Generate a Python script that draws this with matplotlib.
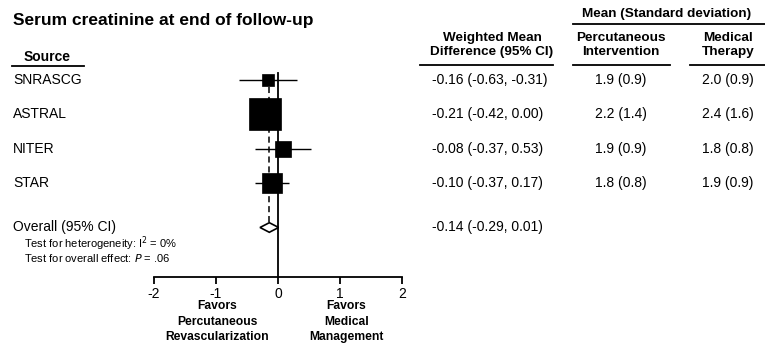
import numpy as np
import matplotlib
matplotlib.use("Agg")
import matplotlib.pyplot as plt
from matplotlib.lines import Line2D
from matplotlib.transforms import blended_transform_factory

plt.rcParams['font.family'] = ['Liberation Sans', 'DejaVu Sans']

# data
studies = ['SNRASCG', 'ASTRAL', 'NITER', 'STAR']
estimate = [-0.16, -0.21, 0.08, -0.10]
ci_low = [-0.63, -0.42, -0.37, -0.37]
ci_high = [0.31, 0.00, 0.53, 0.17]
weights = [6.5, 58.4, 13.7, 21.4]
wmd_text = ['-0.16 (-0.63, -0.31)', '-0.21 (-0.42, 0.00)',
            '-0.08 (-0.37, 0.53)', '-0.10 (-0.37, 0.17)']
perc_text = ['1.9 (0.9)', '2.2 (1.4)', '1.9 (0.9)', '1.8 (0.8)']
med_text = ['2.0 (0.9)', '2.4 (1.6)', '1.8 (0.8)', '1.9 (0.9)']
overall = -0.14
overall_ci = (-0.29, 0.01)
overall_text = '-0.14 (-0.29, 0.01)'
xticks = [-2, -1, 0, 1, 2]

W, H = 765, 352
fig = plt.figure(figsize=(W / 100, H / 100), dpi=100)

def fx(px):
    return px / W

def fy(py):
    return 1 - py / H

# forest plot axes: x -2..2 between px 154 and 402, rows in data units
ax = fig.add_axes([fx(154), fy(277), fx(402) - fx(154), (277 - 60) / H])
ax.set_xlim(-2, 2)
row_px = 34.3
ax.set_ylim((277 - 80) / row_px, (60 - 80) / row_px)
rows = np.arange(len(studies))
overall_y = 4.3

for s in ['top', 'right', 'left']:
    ax.spines[s].set_visible(False)
ax.spines['bottom'].set_linewidth(1.3)
ax.set_yticks([])
ax.set_xticks(xticks)
ax.set_xticklabels([str(t) for t in xticks])
ax.tick_params(axis='x', length=5, width=1.3, labelsize=10, pad=2)

ybot = ax.get_ylim()[0]
# line of no effect and dashed overall line
ax.plot([0, 0], [-0.2, ybot], color='black', lw=1.3, clip_on=False)
ax.plot([overall, overall], [-0.1, overall_y - 0.14], color='black', lw=1.1,
        ls=(0, (4, 2.5)), clip_on=False)

# study CIs and squares
ax.hlines(rows, ci_low, ci_high, color='black', lw=1.0)
sides = 33 * np.sqrt(np.array(weights) / max(weights)) / 1.389
for y, e, s in zip(rows, estimate, sides):
    ax.plot(e, y, marker='s', ms=s, color='black', mec='black', mew=0.5)

# overall diamond
h = 0.14
dx = [overall_ci[0], overall, overall_ci[1], overall, overall_ci[0]]
dy = [overall_y, overall_y - h, overall_y, overall_y + h, overall_y]
ax.fill(dx, dy, facecolor='white', edgecolor='black', lw=1.2, zorder=3)

# text columns (x in figure px, y in rows)
tr = blended_transform_factory(fig.transFigure, ax.transData)
for y, name, w, p, m in zip(rows, studies, wmd_text, perc_text, med_text):
    ax.text(fx(13), y, name, transform=tr, fontsize=10, va='center', ha='left')
    ax.text(fx(432), y, w, transform=tr, fontsize=10, va='center', ha='left')
    ax.text(fx(621), y, p, transform=tr, fontsize=10, va='center', ha='center')
    ax.text(fx(728), y, m, transform=tr, fontsize=10, va='center', ha='center')
ax.text(fx(13), overall_y, 'Overall (95% CI)', transform=tr, fontsize=10,
        va='center', ha='left')
ax.text(fx(432), overall_y, overall_text, transform=tr, fontsize=10,
        va='center', ha='left')
ax.text(fx(24), 4.77, 'Test for heterogeneity: I$^2$ = 0%', transform=tr,
        fontsize=8, va='center', ha='left')
ax.text(fx(24), 5.19, 'Test for overall effect: $P$ = .06', transform=tr,
        fontsize=8, va='center', ha='left')

# favors labels under the axis
for xc, label in [(-0.98, 'Favors\nPercutaneous\nRevascularization'),
                  (1.1, 'Favors\nMedical\nManagement')]:
    ax.text(xc, ybot + 0.68, label, fontsize=8.7, fontweight='bold',
            ha='center', va='top', linespacing=1.38, clip_on=False)

# title and headers
fig.text(fx(13), fy(20), 'Serum creatinine at end of follow-up', fontsize=12.5,
         fontweight='bold', va='center', ha='left')
fig.text(fx(47), fy(57), 'Source', fontsize=10, fontweight='bold',
         va='center', ha='center')
fig.text(fx(492), fy(45), 'Weighted Mean\nDifference (95% CI)', fontsize=9.7,
         fontweight='bold', va='center', ha='center', linespacing=1.15)
fig.text(fx(667), fy(14), 'Mean (Standard deviation)', fontsize=9.7,
         fontweight='bold', va='center', ha='center')
fig.text(fx(621), fy(45), 'Percutaneous\nIntervention', fontsize=9.7,
         fontweight='bold', va='center', ha='center', linespacing=1.15)
fig.text(fx(728), fy(45), 'Medical\nTherapy', fontsize=9.7,
         fontweight='bold', va='center', ha='center', linespacing=1.15)

for x0, x1, yy in [(12, 84, 66), (420, 553, 65), (573, 765, 24),
                   (573, 670, 65), (690, 765, 65)]:
    fig.add_artist(Line2D([fx(x0), fx(x1)], [fy(yy), fy(yy)],
                          transform=fig.transFigure, color='black', lw=1.3))

fig.savefig('out.png', dpi=100)
